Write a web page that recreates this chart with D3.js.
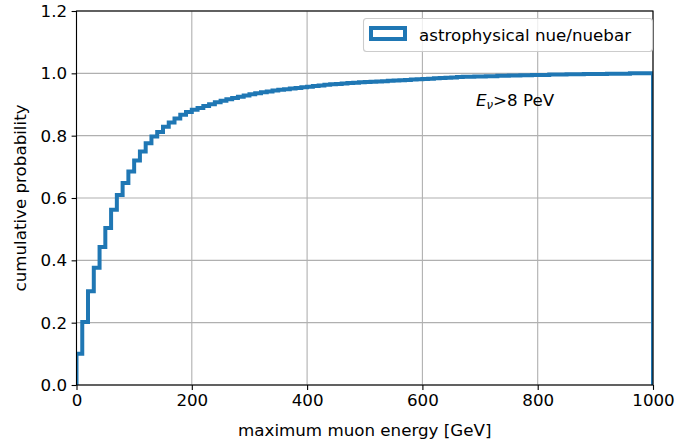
<!DOCTYPE html>
<html>
<head>
<meta charset="utf-8">
<script src="https://cdn.jsdelivr.net/npm/d3@7"></script>
<style>
  body { margin: 0; background: #fff; }
  svg { font-family: "DejaVu Sans", sans-serif; }
</style>
</head>
<body>
<div id="viz"></div>
<script>
// bin edges every 10 GeV, cumulative fraction at the end of each bin
const binWidth = 10;
const cumProb = [
  0.100, 0.202, 0.301, 0.376, 0.443, 0.504, 0.562, 0.610, 0.648, 0.685,
  0.720, 0.749, 0.776, 0.797, 0.812, 0.829, 0.842, 0.855, 0.867, 0.876,
  0.883, 0.889, 0.895, 0.901, 0.907, 0.912, 0.917, 0.921, 0.925, 0.929,
  0.933, 0.936, 0.939, 0.942, 0.945, 0.947, 0.949, 0.951, 0.953, 0.955,
  0.957, 0.959, 0.961, 0.963, 0.965, 0.966, 0.967, 0.969, 0.970, 0.971,
  0.972, 0.973, 0.974, 0.975, 0.976, 0.977, 0.978, 0.979, 0.980, 0.981,
  0.982, 0.983, 0.984, 0.985, 0.986, 0.987, 0.988, 0.989, 0.989, 0.990,
  0.990, 0.991, 0.991, 0.992, 0.992, 0.993, 0.993, 0.994, 0.994, 0.995,
  0.995, 0.995, 0.996, 0.996, 0.996, 0.997, 0.997, 0.997, 0.998, 0.998,
  0.998, 0.998, 0.999, 0.999, 0.999, 0.999, 1.000, 1.000, 1.000, 1.000
];
const xTicks = [0, 200, 400, 600, 800, 1000];
const yTicks = [0.0, 0.2, 0.4, 0.6, 0.8, 1.0, 1.2];
const seriesName = "astrophysical nue/nuebar";

const width = 676, height = 445;
const m = { left: 76.5, right: 653, top: 11, bottom: 385 };
const blue = "#1f77b4";
const fs = "16.7px";

const svg = d3.select("#viz").append("svg")
    .attr("width", width)
    .attr("height", height);

const x = d3.scaleLinear().domain([0, 1000]).range([m.left, m.right]);
const y = d3.scaleLinear().domain([0, 1.2]).range([m.bottom, m.top]);

// grid
svg.append("g").selectAll("line").data(xTicks).join("line")
    .attr("x1", d => x(d)).attr("x2", d => x(d))
    .attr("y1", m.top).attr("y2", m.bottom)
    .attr("stroke", "#b0b0b0").attr("stroke-width", 1.1);
svg.append("g").selectAll("line").data(yTicks).join("line")
    .attr("x1", m.left).attr("x2", m.right)
    .attr("y1", d => y(d)).attr("y2", d => y(d))
    .attr("stroke", "#b0b0b0").attr("stroke-width", 1.1);

// step outline
const pts = [[0, 0]];
cumProb.forEach((v, i) => {
    pts.push([i * binWidth, v]);
    pts.push([(i + 1) * binWidth, v]);
});
pts.push([cumProb.length * binWidth, 0]);

svg.append("clipPath").attr("id", "clip")
    .append("rect").attr("x", m.left).attr("y", m.top)
    .attr("width", m.right - m.left).attr("height", m.bottom - m.top);

svg.append("path")
    .attr("clip-path", "url(#clip)")
    .attr("d", d3.line().x(d => x(d[0])).y(d => y(d[1]))(pts))
    .attr("fill", "none")
    .attr("stroke", blue)
    .attr("stroke-width", 4)
    .attr("stroke-linejoin", "miter");

// axes
const xAxis = svg.append("g").attr("transform", `translate(0,${m.bottom})`)
    .call(d3.axisBottom(x).tickValues(xTicks).tickSize(4.9).tickPadding(4.5).tickFormat(d3.format("d")));
const yAxis = svg.append("g").attr("transform", `translate(${m.left},0)`)
    .call(d3.axisLeft(y).tickValues(yTicks).tickSize(4.9).tickPadding(4.5).tickFormat(d3.format(".1f")));
[xAxis, yAxis].forEach(g => {
    g.selectAll("text").attr("font-family", "DejaVu Sans").attr("font-size", fs).attr("fill", "#000");
    g.selectAll("line").attr("stroke", "#000").attr("stroke-width", 1.1);
    g.select(".domain").remove();
});

// spines
svg.append("rect")
    .attr("x", m.left).attr("y", m.top)
    .attr("width", m.right - m.left).attr("height", m.bottom - m.top)
    .attr("fill", "none").attr("stroke", "#000").attr("stroke-width", 1.1);

// axis labels
svg.append("text")
    .attr("x", (m.left + m.right) / 2).attr("y", 436)
    .attr("text-anchor", "middle").attr("font-size", fs)
    .text("maximum muon energy [GeV]");
svg.append("text")
    .attr("transform", `translate(26,${(m.top + m.bottom) / 2}) rotate(-90)`)
    .attr("text-anchor", "middle").attr("font-size", fs)
    .text("cumulative probability");

// annotation
const ann = svg.append("text")
    .attr("x", 476).attr("y", 106)
    .attr("font-size", fs);
ann.append("tspan").attr("font-style", "italic").text("E");
ann.append("tspan").attr("font-style", "italic").attr("font-size", "11.7px").attr("dy", 3).text("ν");
ann.append("tspan").attr("dy", -3).text(">8 PeV");

// legend
const lg = svg.append("g");
lg.append("rect")
    .attr("x", 363.5).attr("y", 18.5).attr("width", 289).attr("height", 33)
    .attr("rx", 3).attr("fill", "#fff").attr("fill-opacity", 0.8)
    .attr("stroke", "#cccccc").attr("stroke-width", 1.1);
lg.append("rect")
    .attr("x", 371).attr("y", 28).attr("width", 34).attr("height", 11)
    .attr("fill", "#fff").attr("stroke", blue).attr("stroke-width", 4);
lg.append("text")
    .attr("x", 419).attr("y", 41)
    .attr("font-size", fs)
    .text(seriesName);
</script>
</body>
</html>
